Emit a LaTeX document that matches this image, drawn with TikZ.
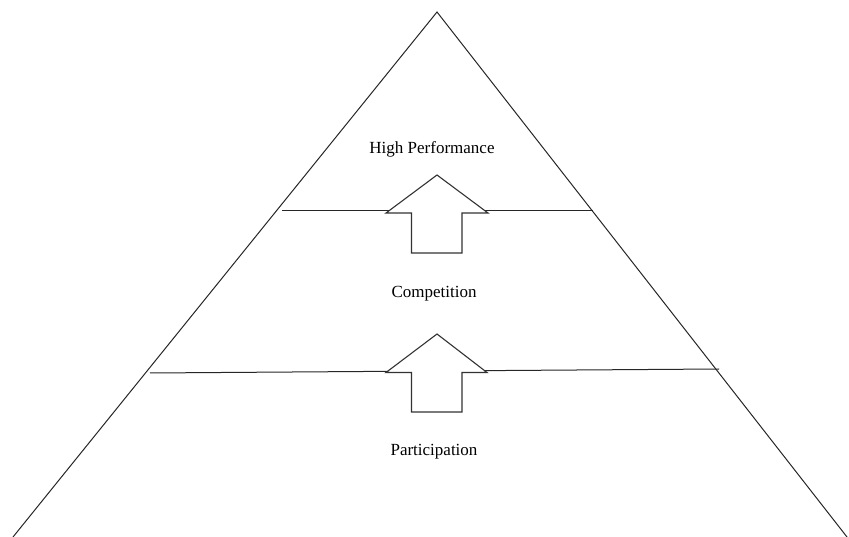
\documentclass[tikz,border=0pt]{standalone}
\usepackage{fontspec}
\setmainfont{Liberation Serif}
\begin{document}
\begin{tikzpicture}[x=1pt,y=-1pt,
	level_label/.style={font=\fontsize{17}{20}\selectfont,inner sep=0pt},
	thin_line/.style={line width=1pt,draw=black!85},
	up_arrow/.style={line width=1.1pt,draw=black!80,fill=white,line join=miter}]

		\useasboundingbox (0,0) rectangle (849,537);

		\coordinate (top) at (437,12);
		\coordinate (left) at (13,537);
		\coordinate (right) at (847,537);

		\draw[thin_line] (left) -- (top) -- (right);

		\coordinate (d1l) at (282,211);
		\coordinate (d1r) at (593,211);
		\coordinate (d2l) at (150,373);
		\coordinate (d2r) at (719,369);

		\draw[thin_line] (d1l) -- (d1r);
		\draw[thin_line] (d2l) -- (d2r);

		\draw[up_arrow] (437,175) -- (488,213) -- (462,213) -- (462,253) -- (411.5,253) -- (411.5,213) -- (386,213) -- cycle;
		\draw[up_arrow] (437,334) -- (487,372.5) -- (462,372.5) -- (462,412) -- (411.5,412) -- (411.5,372.5) -- (386,372.5) -- cycle;

		\node[level_label] (1) at (432,149) {High Performance};
		\node[level_label] (2) at (434,294) {Competition};
		\node[level_label] (3) at (434,452) {Participation};
\end{tikzpicture}
\end{document}
